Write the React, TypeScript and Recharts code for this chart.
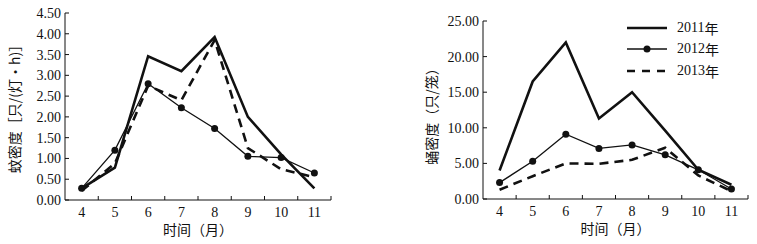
import { LineChart, Line, XAxis, YAxis, Legend, Label } from 'recharts';

// months on the x axis
const months = ['4', '5', '6', '7', '8', '9', '10', '11'];

// mosquito density, 只/(灯·h)
const mosq2011 = [0.28, 0.78, 3.46, 3.1, 3.92, 2.0, 1.1, 0.28];
const mosq2012 = [0.28, 1.2, 2.8, 2.22, 1.72, 1.05, 1.02, 0.65];
const mosq2013 = [0.22, 0.88, 2.75, 2.4, 3.85, 1.25, 0.74, 0.55];
const mosqTicks = [0, 0.5, 1, 1.5, 2, 2.5, 3, 3.5, 4, 4.5];

// pupa density, 只/笼
const pupa2011 = [4.0, 16.5, 22.0, 11.3, 15.0, 9.6, 4.1, 2.0];
const pupa2012 = [2.3, 5.3, 9.1, 7.1, 7.6, 6.2, 4.1, 1.4];
const pupa2013 = [1.3, 3.2, 5.0, 4.95, 5.5, 7.2, 3.3, 1.1];
const pupaTicks = [0, 5, 10, 15, 20, 25];

const mosqData = months.map((m, i) => ({ month: m, y2011: mosq2011[i], y2012: mosq2012[i], y2013: mosq2013[i] }));
const pupaData = months.map((m, i) => ({ month: m, y2011: pupa2011[i], y2012: pupa2012[i], y2013: pupa2013[i] }));

const INK = '#111';
const NUM_FONT = '"Liberation Serif", "Noto Sans CJK SC", serif';
const CJK_FONT = '"Noto Sans CJK SC", "Liberation Serif", serif';

const series = [
  { key: 'y2011', name: '2011年', width: 2.6, dash: undefined as string | undefined, dot: false },
  { key: 'y2012', name: '2012年', width: 1.3, dash: undefined as string | undefined, dot: true },
  { key: 'y2013', name: '2013年', width: 2.6, dash: '9 6', dot: false },
];

const makeXTick = (bandWidth: number) => (props: any) => {
  const { x, y, payload } = props;
  return (
    <g>
      <text x={x} y={y} dy="0.71em" textAnchor="middle" fontSize={14} fontFamily={NUM_FONT} fill={INK}>
        {payload.value}
      </text>
      <line x1={x + bandWidth / 2} x2={x + bandWidth / 2} y1={y - 7} y2={y - 11} stroke={INK} strokeWidth={1} />
    </g>
  );
};

const makeYTick = (fmt: (v: number) => string) => (props: any) => {
  const { x, y, payload } = props;
  return (
    <g>
      <text x={x} y={y} dy="0.355em" textAnchor="end" fontSize={14} fontFamily={NUM_FONT} fill={INK}>
        {fmt(payload.value)}
      </text>
      <line x1={x + 4} x2={x + 8} y1={y} y2={y} stroke={INK} strokeWidth={1} />
    </g>
  );
};

const yLabel = (text: string, dx: number, dy: number) => (props: any) => {
  const { x, y, height } = props.viewBox;
  const cx = x + dx;
  const cy = y + height / 2 + dy;
  return (
    <text x={cx} y={cy} dy="0.35em" textAnchor="middle" transform={`rotate(-90 ${cx} ${cy})`} fontSize={14} fontFamily={CJK_FONT} fill={INK}>
      {text}
    </text>
  );
};

const xLabel = (text: string) => (props: any) => {
  const { x, y, width } = props.viewBox;
  return (
    <text x={x + width / 2} y={y + 35} textAnchor="middle" fontSize={14} fontFamily={CJK_FONT} fill={INK}>
      {text}
    </text>
  );
};

const LegendBox = () => (
  <div style={{ fontFamily: CJK_FONT, fontSize: 14, color: INK }}>
    {series.map((s) => (
      <div key={s.key} style={{ display: 'flex', alignItems: 'center', height: 21.5 }}>
        <svg width={40} height={10} style={{ marginRight: 10 }}>
          <line x1={0} x2={40} y1={5} y2={5} stroke={INK} strokeWidth={s.width} strokeDasharray={s.dash ? '8 7' : undefined} />
          {s.dot && <circle cx={20} cy={5} r={3.5} fill={INK} />}
        </svg>
        <span style={{ fontFamily: NUM_FONT }}>{s.name.slice(0, 4)}</span>
        <span>{s.name.slice(4)}</span>
      </div>
    ))}
  </div>
);

function renderLines() {
  return series.map((s) => (
    <Line
      key={s.key}
      type="linear"
      dataKey={s.key}
      name={s.name}
      stroke={INK}
      strokeWidth={s.width}
      strokeDasharray={s.dash}
      dot={s.dot ? { r: 3.5, fill: INK, stroke: INK, strokeWidth: 0 } : false}
      activeDot={false}
      isAnimationActive={false}
    />
  ));
}

export default function App() {
  const leftW = 340;
  const rightW = 377;
  const leftBand = (331 - 65) / months.length;
  const rightBand = (748 - 483) / months.length;

  return (
    <div style={{ position: 'absolute', left: 0, top: 0, width: 757, height: 244, background: '#fff' }}>
      <div style={{ position: 'absolute', left: 0, top: 0 }}>
        <LineChart width={leftW} height={244} data={mosqData} margin={{ top: 13, right: 9, bottom: 0, left: 0 }}>
          <XAxis
            dataKey="month"
            scale="band"
            height={44}
            stroke={INK}
            tickLine={false}
            tickSize={0}
            tickMargin={7}
            interval={0}
            tick={makeXTick(leftBand)}
          >
            <Label content={xLabel('时间（月）')} />
          </XAxis>
          <YAxis
            width={65}
            domain={[0, 4.5]}
            ticks={mosqTicks}
            stroke={INK}
            tickLine={false}
            tickSize={0}
            tickMargin={4}
            interval={0}
            tick={makeYTick((v) => v.toFixed(2))}
          >
            <Label content={yLabel('蚊密度［只/(灯·h)］', 15, -1)} />
          </YAxis>
          {renderLines()}
        </LineChart>
      </div>
      <div style={{ position: 'absolute', left: 380, top: 0 }}>
        <LineChart width={rightW} height={244} data={pupaData} margin={{ top: 21, right: 9, bottom: 0, left: 0 }}>
          <XAxis
            dataKey="month"
            scale="band"
            height={45}
            stroke={INK}
            tickLine={false}
            tickSize={0}
            tickMargin={7}
            interval={0}
            tick={makeXTick(rightBand)}
          >
            <Label content={xLabel('时间（月）')} />
          </XAxis>
          <YAxis
            width={103}
            domain={[0, 25]}
            ticks={pupaTicks}
            stroke={INK}
            tickLine={false}
            tickSize={0}
            tickMargin={4}
            interval={0}
            tick={makeYTick((v) => v.toFixed(2))}
          >
            <Label content={yLabel('蛹密度（只/笼）', 52, 3)} />
          </YAxis>
          <Legend
            layout="vertical"
            align="center"
            verticalAlign="middle"
            content={() => <LegendBox />}
            wrapperStyle={{ left: 247, top: 17, width: 120 }}
          />
          {renderLines()}
        </LineChart>
      </div>
    </div>
  );
}
